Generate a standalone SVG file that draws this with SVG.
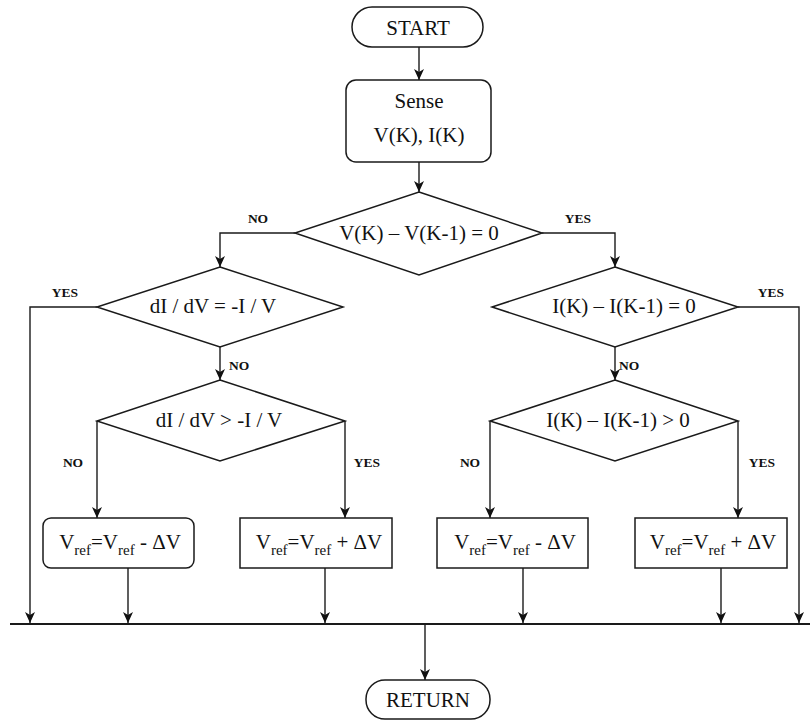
<svg xmlns="http://www.w3.org/2000/svg" width="810" height="722" viewBox="0 0 810 722">
<style>
.shape{fill:#fff;stroke:#1a1a1a;stroke-width:1.5}
.t{font-family:"Liberation Serif","Times New Roman",serif;font-size:21px;fill:#111;text-anchor:middle}
.lbl{font-family:"Liberation Serif","Times New Roman",serif;font-size:13.5px;font-weight:bold;fill:#111;text-anchor:middle}
.c{fill:none;stroke:#1a1a1a;stroke-width:1.4}
.sub{font-size:15px}
</style>
<defs>
<marker id="arr" markerUnits="userSpaceOnUse" markerWidth="12" markerHeight="10" refX="11" refY="5" orient="auto">
<path d="M0,0 L11,5 L0,10 L3,5 z" fill="#111"/>
</marker>
</defs>
<rect width="810" height="722" fill="#fff"/>
<g id="connectors">
<path class="c" d="M419,47 V80" marker-end="url(#arr)"/>
<path class="c" d="M419,162 V192" marker-end="url(#arr)"/>
<path class="c" d="M295,233 H220 V267" marker-end="url(#arr)"/>
<path class="c" d="M542,233 H615 V267" marker-end="url(#arr)"/>
<path class="c" d="M97,307 H30 V623" marker-end="url(#arr)"/>
<path class="c" d="M220,347 V380" marker-end="url(#arr)"/>
<path class="c" d="M738,307 H799 V623" marker-end="url(#arr)"/>
<path class="c" d="M615,347 V380" marker-end="url(#arr)"/>
<path class="c" d="M97,421 V518" marker-end="url(#arr)"/>
<path class="c" d="M345,421 V518" marker-end="url(#arr)"/>
<path class="c" d="M490,421 V518" marker-end="url(#arr)"/>
<path class="c" d="M738,421 V518" marker-end="url(#arr)"/>
<path class="c" d="M128,568 V623" marker-end="url(#arr)"/>
<path class="c" d="M325,568 V623" marker-end="url(#arr)"/>
<path class="c" d="M523,568 V623" marker-end="url(#arr)"/>
<path class="c" d="M721,568 V623" marker-end="url(#arr)"/>
<path d="M10,624 H810" fill="none" stroke="#1a1a1a" stroke-width="2.2"/>
<path class="c" d="M425,624 V680" marker-end="url(#arr)"/>
<text class="lbl" x="258" y="223">NO</text>
<text class="lbl" x="578" y="223">YES</text>
<text class="lbl" x="65" y="297">YES</text>
<text class="lbl" x="771" y="297">YES</text>
<text class="lbl" x="229" y="370" style="text-anchor:start">NO</text>
<text class="lbl" x="619" y="370" style="text-anchor:start">NO</text>
<text class="lbl" x="73" y="467">NO</text>
<text class="lbl" x="367" y="467">YES</text>
<text class="lbl" x="470" y="467">NO</text>
<text class="lbl" x="762" y="467">YES</text>
</g>
<g id="start">
<rect class="shape" x="352" y="7" width="131" height="40" rx="20"/>
<text class="t" x="418" y="35">START</text>
</g>
<g id="sense">
<rect class="shape" x="346" y="80" width="145" height="82" rx="10"/>
<text class="t" x="419" y="108">Sense</text>
<text class="t" x="419" y="142">V(K), I(K)</text>
</g>
<g id="d1">
<polygon class="shape" points="419,192 542,233 419,275 295,233"/>
<text class="t" x="419" y="240">V(K) – V(K-1) = 0</text>
</g>
<g id="d2">
<polygon class="shape" points="220,267 343,307 220,347 97,307"/>
<text class="t" x="213" y="313">dI / dV = -I / V</text>
</g>
<g id="d3">
<polygon class="shape" points="615,267 738,307 615,347 492,307"/>
<text class="t" x="624" y="313">I(K) – I(K-1) = 0</text>
</g>
<g id="d4">
<polygon class="shape" points="220,380 345,421 220,461 97,421"/>
<text class="t" x="219" y="427">dI / dV &gt; -I / V</text>
</g>
<g id="d5">
<polygon class="shape" points="615,380 738,421 615,461 490,421"/>
<text class="t" x="618" y="427">I(K) – I(K-1) &gt; 0</text>
</g>
<g id="b1">
<rect class="shape" x="43" y="518" width="151" height="50" rx="8"/>
<text class="t" x="120" y="549">V<tspan class="sub" dy="6">ref</tspan><tspan dy="-6">=V</tspan><tspan class="sub" dy="6">ref</tspan><tspan dy="-6"> - ΔV</tspan></text>
</g>
<g id="b2">
<rect class="shape" x="240" y="518" width="152" height="50"/>
<text class="t" x="319" y="549">V<tspan class="sub" dy="6">ref</tspan><tspan dy="-6">=V</tspan><tspan class="sub" dy="6">ref</tspan><tspan dy="-6"> + ΔV</tspan></text>
</g>
<g id="b3">
<rect class="shape" x="437" y="518" width="151" height="50"/>
<text class="t" x="515" y="549">V<tspan class="sub" dy="6">ref</tspan><tspan dy="-6">=V</tspan><tspan class="sub" dy="6">ref</tspan><tspan dy="-6"> - ΔV</tspan></text>
</g>
<g id="b4">
<rect class="shape" x="635" y="518" width="152" height="50"/>
<text class="t" x="713" y="549">V<tspan class="sub" dy="6">ref</tspan><tspan dy="-6">=V</tspan><tspan class="sub" dy="6">ref</tspan><tspan dy="-6"> + ΔV</tspan></text>
</g>
<g id="return">
<rect class="shape" x="366" y="680" width="124" height="39" rx="19"/>
<text class="t" x="428" y="707">RETURN</text>
</g>
</svg>
